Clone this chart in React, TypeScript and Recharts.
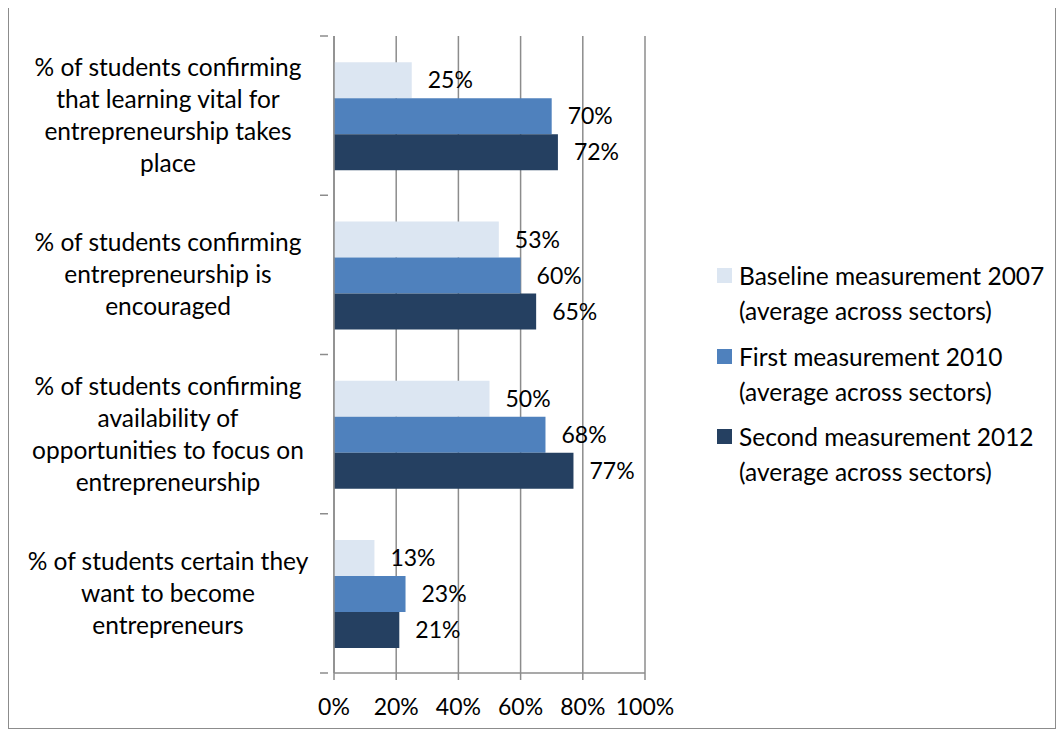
import React from 'react';
import { BarChart, Bar, XAxis, YAxis, CartesianGrid, Legend, LabelList } from 'recharts';

const categories = [
  '% of students confirming\nthat learning vital for\nentrepreneurship takes\nplace',
  '% of students confirming\nentrepreneurship is\nencouraged',
  '% of students confirming\navailability of\nopportunities to focus on\nentrepreneurship',
  '% of students certain they\nwant to become\nentrepreneurs',
];
const baseline2007 = [25, 53, 50, 13];
const first2010 = [70, 60, 68, 23];
const second2012 = [72, 65, 77, 21];
const xTicks = [0, 20, 40, 60, 80, 100];

const seriesNames = [
  'Baseline measurement 2007\n(average across sectors)',
  'First measurement 2010\n(average across sectors)',
  'Second measurement 2012\n(average across sectors)',
];
const seriesColors = ['#DCE6F2', '#4F81BD', '#254061'];

const data = categories.map((c, i) => ({
  cat: c,
  baseline: baseline2007[i],
  first: first2010[i],
  second: second2012[i],
}));

const FONT = 'Lato';
const GRID = '#8c8c8c';
const W = 1046;
const H = 720;
const M = { top: 28, right: 410, bottom: 0, left: 0 };
const X_AXIS_H = 55;
const PLOT_H = H - M.top - M.bottom - X_AXIS_H;
const BAND = PLOT_H / categories.length;

const CatTick = (props: any) => {
  const { x, y, payload, index } = props;
  const lines = String(payload.value).split('\n');
  const lh = 32;
  const y0 = y - ((lines.length - 1) * lh) / 2;
  return (
    <g>
      <line x1={x - 8} x2={x} y1={y - BAND / 2} y2={y - BAND / 2} stroke={GRID} strokeWidth={1.5} />
      {index === categories.length - 1 && (
        <line x1={x - 8} x2={x} y1={y + BAND / 2} y2={y + BAND / 2} stroke={GRID} strokeWidth={1.5} />
      )}
      <text x={x - 160} y={y0} textAnchor="middle" fontFamily={FONT} fontSize={24.5} fill="#000">
        {lines.map((l, i) => (
          <tspan key={i} x={x - 160} y={y0 + i * lh} dy="0.35em">
            {l}
          </tspan>
        ))}
      </text>
    </g>
  );
};

const LegendBox = () => (
  <div style={{ fontFamily: FONT, fontSize: 24.5, color: '#000' }}>
    {seriesNames.map((n, i) => (
      <div key={i} style={{ display: 'flex', alignItems: 'flex-start', marginBottom: 10.5 }}>
        <div
          style={{
            width: 15,
            height: 15,
            background: seriesColors[i],
            marginTop: 10,
            marginRight: 7,
            flexShrink: 0,
          }}
        />
        <div style={{ lineHeight: '35px', whiteSpace: 'pre' }}>{n}</div>
      </div>
    ))}
  </div>
);

const App: React.FC = () => (
  <div style={{ width: 1046, height: 720, border: `1px solid ${GRID}`, marginTop: -1, background: '#fff' }}>
    <BarChart
      width={W}
      height={H}
      data={data}
      layout="vertical"
      margin={M}
      barCategoryGap="16.5%"
      barGap={0}
    >
      <CartesianGrid horizontal={false} stroke={GRID} strokeWidth={1.5} />
      <XAxis
        type="number"
        domain={[0, 100]}
        ticks={xTicks}
        tickFormatter={(v) => `${v}%`}
        height={X_AXIS_H}
        stroke={GRID}
        strokeWidth={1.5}
        tickSize={7}
        tickMargin={19}
        tick={{ fontFamily: FONT, fontSize: 23, fill: '#000' }}
      />
      <YAxis
        type="category"
        dataKey="cat"
        width={325}
        stroke={GRID}
        strokeWidth={1.5}
        tickLine={false}
        tickMargin={0}
        tick={<CatTick />}
        interval={0}
      />
      <Legend
        layout="vertical"
        align="center"
        verticalAlign="middle"
        content={<LegendBox />}
        wrapperStyle={{ left: 708, top: 250, width: 345 }}
      />
      <Bar dataKey="baseline" name={seriesNames[0]} fill={seriesColors[0]} isAnimationActive={false}>
        <LabelList dataKey="baseline" position="right" offset={16} formatter={(v: any) => `${v}%`} fontFamily={FONT} fontSize={23} fill="#000" />
      </Bar>
      <Bar dataKey="first" name={seriesNames[1]} fill={seriesColors[1]} isAnimationActive={false}>
        <LabelList dataKey="first" position="right" offset={16} formatter={(v: any) => `${v}%`} fontFamily={FONT} fontSize={23} fill="#000" />
      </Bar>
      <Bar dataKey="second" name={seriesNames[2]} fill={seriesColors[2]} isAnimationActive={false}>
        <LabelList dataKey="second" position="right" offset={16} formatter={(v: any) => `${v}%`} fontFamily={FONT} fontSize={23} fill="#000" />
      </Bar>
    </BarChart>
  </div>
);

export default App;
